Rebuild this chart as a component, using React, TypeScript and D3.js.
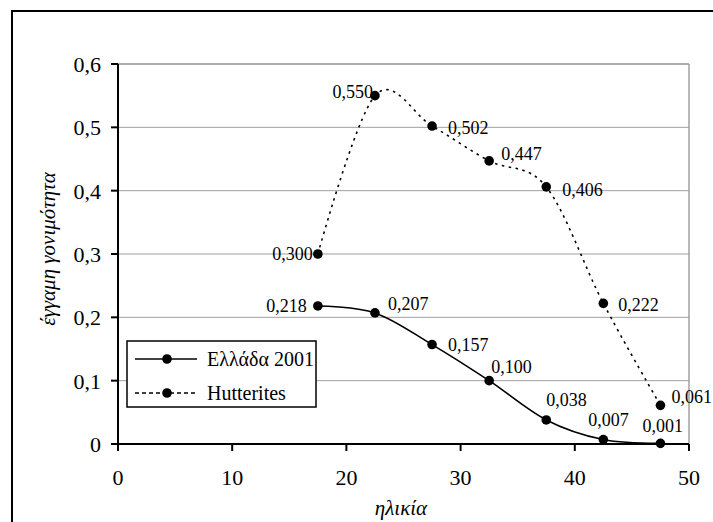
import React, { useEffect } from "react";
import * as d3 from "d3";

const ages = [17.5, 22.5, 27.5, 32.5, 37.5, 42.5, 47.5];
const greece = [0.218, 0.207, 0.157, 0.1, 0.038, 0.007, 0.001];
const hutterites = [0.3, 0.55, 0.502, 0.447, 0.406, 0.222, 0.061];
const xTicks = [0, 10, 20, 30, 40, 50];
const yTicks = [0, 0.1, 0.2, 0.3, 0.4, 0.5, 0.6];
const seriesNames = ["Ελλάδα 2001", "Hutterites"];
const xTitle = "ηλικία";
const yTitle = "έγγαμη γονιμότητα";

// label placement: [dx, dy, anchor]
const greeceLabelPos: [number, number, string][] = [
  [-11, 6, "end"],
  [13, -3, "start"],
  [16, 6, "start"],
  [2, -8, "start"],
  [0, -14, "start"],
  [-15, -14, "start"],
  [-18, -11, "start"],
];
const hutLabelPos: [number, number, string][] = [
  [-5, 6, "end"],
  [-2, 2, "end"],
  [16, 8, "start"],
  [12, -1, "start"],
  [16, 9, "start"],
  [15, 8, "start"],
  [11, -2, "start"],
];

const fmt = (v: number) => v.toFixed(3).replace(".", ",");
const fmtTick = (v: number) => (v === 0 ? "0" : v.toFixed(1).replace(".", ","));

const font = "Liberation Serif, Times New Roman, serif";

export default function App() {
  useEffect(() => {
    document.body.style.margin = "0";
  }, []);
  const x = d3.scaleLinear().domain([0, 50]).range([118, 689]);
  const y = d3.scaleLinear().domain([0, 0.6]).range([444, 64]);
  const line = d3
    .line<number>()
    .x((_, i) => x(ages[i]))
    .y((d) => y(d))
    .curve(d3.curveCardinal.tension(0));

  const renderLabels = (vals: number[], pos: [number, number, string][]) =>
    vals.map((v, i) => (
      <text
        key={i}
        x={x(ages[i]) + pos[i][0]}
        y={y(v) + pos[i][1]}
        textAnchor={pos[i][2] as any}
        fontSize={18}
        fontFamily={font}
        fill="#000"
      >
        {fmt(v)}
      </text>
    ));

  return (
    <svg width={713} height={522} style={{ display: "block" }}>
      <rect x={0} y={0} width={713} height={522} fill="#fff" />
      <rect x={12} y={11} width={720} height={540} fill="none" stroke="#000" strokeWidth={2} />
      {/* gridlines */}
      {yTicks.slice(1).map((t) => (
        <line key={t} x1={x(0)} x2={x(50)} y1={y(t)} y2={y(t)} stroke="#a0a0a0" strokeWidth={1} />
      ))}
      <line x1={x(50)} x2={x(50)} y1={y(0.6)} y2={y(0)} stroke="#a0a0a0" strokeWidth={1.5} />
      <line x1={x(0)} x2={x(50)} y1={y(0.6)} y2={y(0.6)} stroke="#a0a0a0" strokeWidth={1.5} />
      {/* axes */}
      <line x1={x(0)} x2={x(0)} y1={y(0.6)} y2={y(0)} stroke="#000" strokeWidth={2} />
      <line x1={x(0)} x2={x(50)} y1={y(0)} y2={y(0)} stroke="#000" strokeWidth={2} />
      {yTicks.map((t) => (
        <g key={t}>
          <line x1={x(0) - 7} x2={x(0)} y1={y(t)} y2={y(t)} stroke="#000" strokeWidth={2} />
          <text x={x(0) - 17} y={y(t) + 8} textAnchor="end" fontSize={22} fontFamily={font}>
            {fmtTick(t)}
          </text>
        </g>
      ))}
      {xTicks.map((t) => (
        <g key={t}>
          <line x1={x(t)} x2={x(t)} y1={y(0)} y2={y(0) + 7} stroke="#000" strokeWidth={2} />
          <text x={x(t)} y={y(0) + 41} textAnchor="middle" fontSize={22} fontFamily={font}>
            {t}
          </text>
        </g>
      ))}
      <text x={401} y={515} textAnchor="middle" fontSize={21} fontStyle="italic" fontFamily={font}>
        {xTitle}
      </text>
      <text
        transform={`translate(55,249) rotate(-90)`}
        textAnchor="middle"
        fontSize={21}
        fontStyle="italic"
        fontFamily={font}
      >
        {yTitle}
      </text>
      {/* series */}
      <path d={line(hutterites) || ""} fill="none" stroke="#000" strokeWidth={1.6} strokeDasharray="2.5,4.5" />
      <path d={line(greece) || ""} fill="none" stroke="#000" strokeWidth={1.6} />
      {hutterites.map((v, i) => (
        <circle key={"h" + i} cx={x(ages[i])} cy={y(v)} r={4.8} fill="#000" />
      ))}
      {greece.map((v, i) => (
        <circle key={"g" + i} cx={x(ages[i])} cy={y(v)} r={4.8} fill="#000" />
      ))}
      {renderLabels(hutterites, hutLabelPos)}
      {renderLabels(greece, greeceLabelPos)}
      {/* legend */}
      <rect x={127} y={341} width={189} height={66} fill="#fff" stroke="#000" strokeWidth={1.5} />
      <line x1={135} x2={197} y1={359} y2={359} stroke="#000" strokeWidth={1.6} />
      <circle cx={167} cy={359} r={4.8} fill="#000" />
      <text x={207} y={366} fontSize={20} fontFamily={font}>
        {seriesNames[0]}
      </text>
      <line x1={135} x2={197} y1={393} y2={393} stroke="#000" strokeWidth={1.6} strokeDasharray="4,3" />
      <circle cx={167} cy={393} r={4.8} fill="#000" />
      <text x={207} y={400} fontSize={20} fontFamily={font}>
        {seriesNames[1]}
      </text>
    </svg>
  );
}
